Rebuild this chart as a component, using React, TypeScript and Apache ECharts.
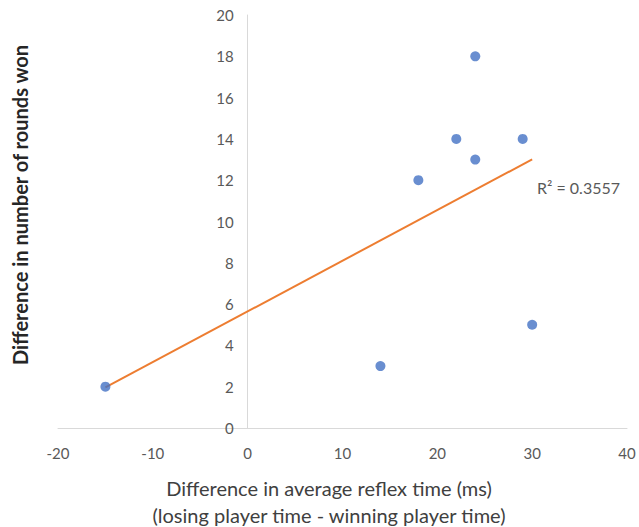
import React, { useEffect, useRef } from "react";
import * as echarts from "echarts";

const reflexDiff: number[] = [-15, 14, 18, 22, 24, 24, 29, 30];
const roundsDiff: number[] = [2, 3, 12, 14, 18, 13, 14, 5];
const xTicks = { min: -20, max: 40, interval: 10 };
const yTicks = { min: 0, max: 20, interval: 2 };

function regression(xs: number[], ys: number[]) {
  const n = xs.length;
  const mx = xs.reduce((a, b) => a + b, 0) / n;
  const my = ys.reduce((a, b) => a + b, 0) / n;
  let sxy = 0, sxx = 0, syy = 0;
  for (let i = 0; i < n; i++) {
    sxy += (xs[i] - mx) * (ys[i] - my);
    sxx += (xs[i] - mx) ** 2;
    syy += (ys[i] - my) ** 2;
  }
  const slope = sxy / sxx;
  const intercept = my - slope * mx;
  const r2 = (sxy * sxy) / (sxx * syy);
  return { slope, intercept, r2 };
}

const W = 639;
const H = 527;
const GRID = { left: 58, right: 12, top: 15, bottom: 99 };

export default function App() {
  const ref = useRef<HTMLDivElement>(null);
  useEffect(() => {
    if (!ref.current) return;
    const chart = echarts.init(ref.current, undefined, { renderer: "svg" });
    const { slope, intercept, r2 } = regression(reflexDiff, roundsDiff);
    const x0 = Math.min(...reflexDiff);
    const x1 = Math.max(...reflexDiff);
    const font = "Lato, 'Open Sans', sans-serif";
    const plotW = W - GRID.left - GRID.right;
    const yAxisOffset = -plotW * ((0 - xTicks.min) / (xTicks.max - xTicks.min));
    chart.setOption({
      animation: false,
      textStyle: { fontFamily: font },
      grid: GRID,
      xAxis: {
        type: "value",
        min: xTicks.min,
        max: xTicks.max,
        interval: xTicks.interval,
        axisLine: { show: true, onZero: true, lineStyle: { color: "#d9d9d9", width: 1 } },
        axisTick: { show: false },
        splitLine: { show: false },
        axisLabel: { color: "#595959", fontSize: 15, margin: 17, fontFamily: font },
      },
      yAxis: {
        type: "value",
        min: yTicks.min,
        max: yTicks.max,
        interval: yTicks.interval,
        offset: yAxisOffset,
        axisLine: { show: true, onZero: false, lineStyle: { color: "#d9d9d9", width: 1 } },
        axisTick: { show: false },
        splitLine: { show: false },
        axisLabel: { color: "#595959", fontSize: 15, margin: 14, fontFamily: font },
      },
      series: [
        {
          type: "line",
          data: [
            [x0, intercept + slope * x0],
            [x1, intercept + slope * x1],
          ],
          showSymbol: false,
          symbol: "none",
          lineStyle: { color: "#ED7D31", width: 2 },
          z: 2,
        },
        {
          type: "scatter",
          data: reflexDiff.map((x, i) => [x, roundsDiff[i]]),
          symbolSize: 10,
          itemStyle: { color: "#4472C4" },
          z: 3,
        },
      ],
      graphic: [
        {
          type: "text",
          left: 537,
          top: 179,
          style: {
            text: "R² = " + r2.toFixed(4),
            fill: "#595959",
            font: `16px ${font}`,
          },
        },
        {
          type: "text",
          x: 329,
          y: 488,
          style: {
            text: "Difference in average reflex time (ms)",
            fill: "#404040",
            font: `20px ${font}`,
            align: "center",
            verticalAlign: "middle",
          },
        },
        {
          type: "text",
          x: 329,
          y: 515,
          style: {
            text: "(losing player time - winning player time)",
            fill: "#404040",
            font: `20px ${font}`,
            align: "center",
            verticalAlign: "middle",
          },
        },
        {
          type: "text",
          x: 20,
          y: 205,
          rotation: Math.PI / 2,
          style: {
            text: "Difference in number of rounds won",
            fill: "#262626",
            font: `bold 20px ${font}`,
            align: "center",
            verticalAlign: "middle",
          },
        },
      ],
    });
    return () => chart.dispose();
  }, []);
  return <div ref={ref} style={{ width: W, height: H, position: "absolute", left: 0, top: 0 }} />;
}
